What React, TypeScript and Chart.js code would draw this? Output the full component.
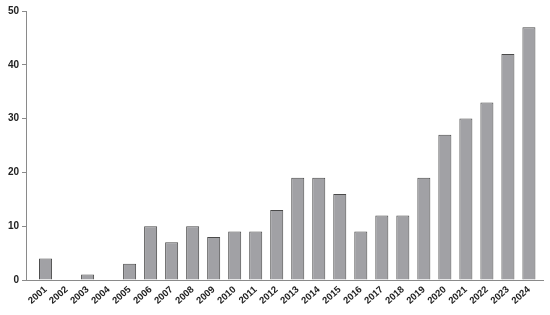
import React, { useEffect, useRef } from "react";
import { Chart, registerables } from "chart.js";

Chart.register(...registerables);

const years = [2001,2002,2003,2004,2005,2006,2007,2008,2009,2010,2011,2012,2013,2014,2015,2016,2017,2018,2019,2020,2021,2022,2023,2024];
const counts = [4,0,1,0,3,10,7,10,8,9,9,13,19,19,16,9,12,12,19,27,30,33,42,47];
const yTicks = [0,10,20,30,40,50];

export default function App() {
  const ref = useRef<HTMLCanvasElement>(null);
  useEffect(() => {
    document.body.style.margin = "0";
    const chart = new Chart(ref.current!, {
      type: "bar",
      data: {
        datasets: [{
          data: years.map((y, i) => ({ x: y, y: counts[i] })),
          backgroundColor: "#a1a1a5",
          borderColor: "#4a4a4a",
          borderWidth: 1,
          barPercentage: 0.62,
          categoryPercentage: 1,
        }],
      },
      options: {
        animation: false,
        responsive: false,
        maintainAspectRatio: false,
        plugins: { legend: { display: false }, tooltip: { enabled: false } },
        layout: { padding: { top: 11, right: 7, left: 0, bottom: 0 } },
        scales: {
          x: {
            type: "linear",
            offset: false,
            min: 2000.07,
            max: 2024.67,
            afterBuildTicks: (axis: any) => { axis.ticks = years.map(v => ({ value: v })); },
            afterFit: (axis: any) => { axis.height = 35; },
            grid: { display: false },
            border: { display: true, color: "#8a8a8a", width: 1 },
            ticks: {
              maxRotation: 42, minRotation: 42,
              autoSkip: false,
              callback: (v: any) => String(v),
              color: "#222",
              font: { family: "Arial, Liberation Sans", size: 9.5, weight: "bold" },
              padding: -4,
            },
          },
          y: {
            min: 0, max: 50,
            afterBuildTicks: (axis: any) => { axis.ticks = yTicks.map(v => ({ value: v })); },
            afterFit: (axis: any) => { axis.width = 26; },
            grid: { drawOnChartArea: false, drawTicks: true, tickLength: 4, color: "#8a8a8a" },
            border: { display: true, color: "#8a8a8a", width: 1 },
            ticks: {
              color: "#222",
              font: { family: "Arial, Liberation Sans", size: 10, weight: "bold" },
              padding: 3,
            },
          },
        },
      },
    });
    return () => chart.destroy();
  }, []);
  return (
    <div style={{ position: "absolute", left: 0, top: 0, width: 550, height: 315 }}>
      <canvas ref={ref} width={550} height={315} style={{ width: 550, height: 315 }} />
    </div>
  );
}
